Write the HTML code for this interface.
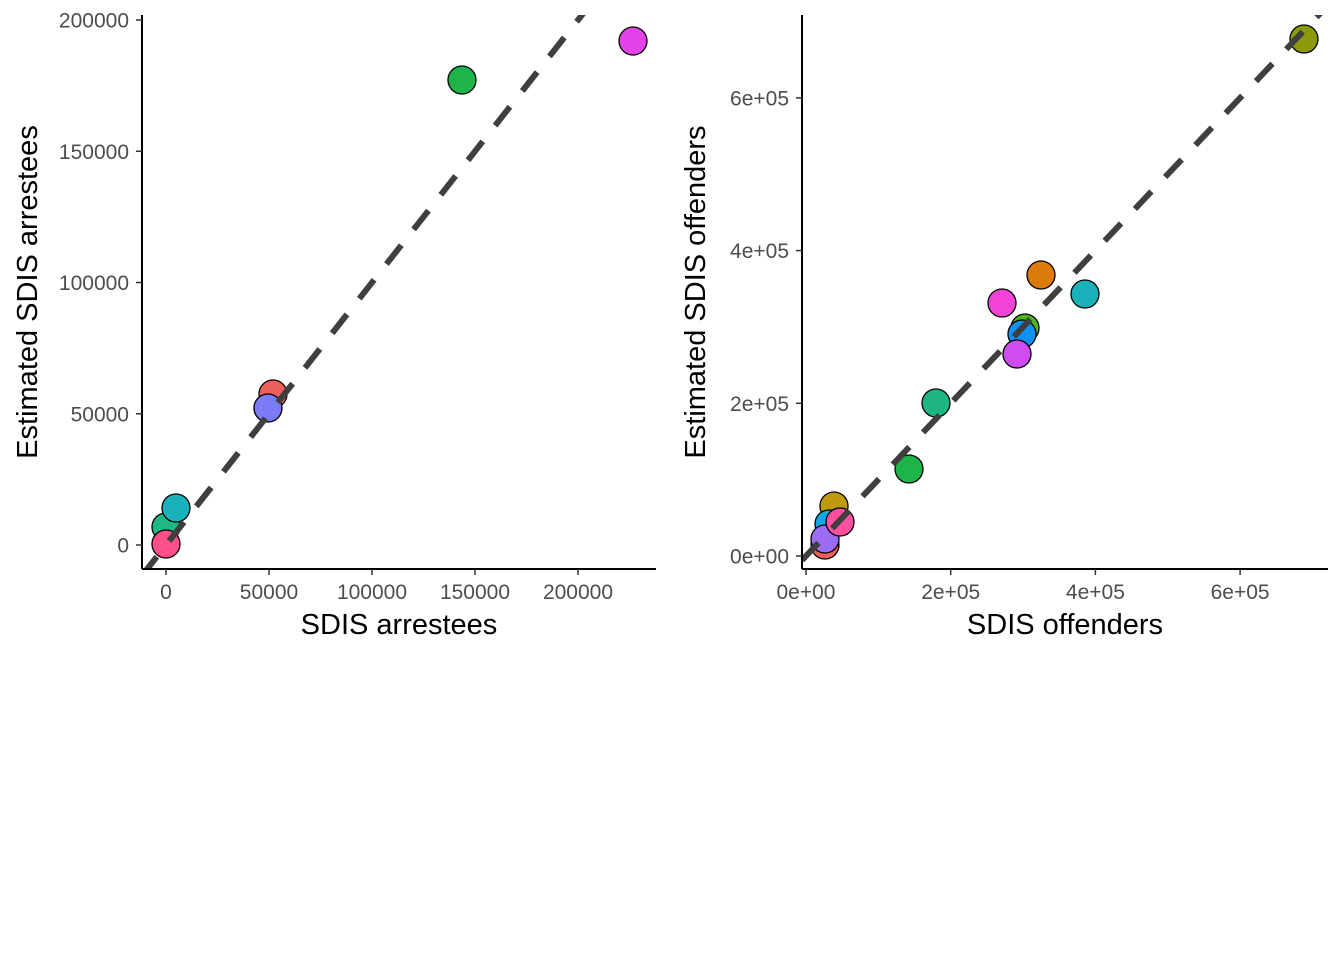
<!DOCTYPE html>
<html><head><meta charset="utf-8"><style>
html,body{margin:0;padding:0;background:#fff;width:1344px;height:960px;overflow:hidden}
svg text{font-family:"Liberation Sans",Arial,sans-serif}
</style></head><body>
<svg id="c" width="1344" height="960" viewBox="0 0 1344 960"></svg>
<script>
const leftX=[51942,49515,143689,226700,0,4854,0];
const leftY=[57524,52190,177142,192000,6857,14095,381];
const leftColors=["#F0605A","#7B7BF5","#1DB54A","#E243E8","#1FB884","#1AB2BA","#FF4F8C"];
const leftXTicks=[0,50000,100000,150000,200000];
const leftYTicks=[0,50000,100000,150000,200000];
const rightX=[688322,324810,385625,270905,302695,298548,291638,179682,142363,26261,38700,31790,26261,46994];
const rightY=[677145,368042,343156,331368,298625,290766,264571,200393,113949,14407,65488,41912,22266,44531];
const rightColors=["#8B9A0B","#DC7A0A","#1AB2BA","#F243D6","#4DB81E","#1090F0","#D04CF0","#1DB584","#1DB54A","#F0605A","#BE9A0C","#10A9E6","#9C6CF5","#FF4F9E"];
const rightXTicks=[0,200000,400000,600000];
const rightYTicks=[0,200000,400000,600000];
const NS="http://www.w3.org/2000/svg";
const svg=document.getElementById('c');
function mk(t,a,p){const e=document.createElementNS(NS,t);for(const k in a)e.setAttribute(k,a[k]);(p||svg).appendChild(e);return e;}
function panel(o){
  const g=mk('g',{});
  
  
  const sx=v=>o.x0+v*o.kx, sy=v=>o.y0-v*o.ky;
  for(let i=0;i<o.xs.length;i++){
    const c=mk('circle',{cx:sx(o.xs[i]),cy:sy(o.ys[i]),r:14,fill:o.cols[i],stroke:'#000','stroke-width':1.3},g);
    
    
  }
  const lo=(o.left-o.x0)/o.kx, hi=(o.right-o.x0)/o.kx;
  const l=mk('line',{x1:sx(lo),y1:sy(lo),x2:sx(hi),y2:sy(hi),stroke:'#3f3f3f','stroke-width':6,'stroke-dasharray':'24,20'},g);
  
  
  const cp=mk('clipPath',{id:'cp'+o.name},g);
  mk('rect',{x:o.left,y:o.top,width:o.right-o.left,height:o.bottom-o.top},cp);
  l.setAttribute('clip-path','url(#cp'+o.name+')');
  const xa=mk('line',{x1:o.left,y1:o.bottom,x2:o.right,y2:o.bottom,stroke:'#000','stroke-width':2},g);
  
  
  const ya=mk('line',{x1:o.left,y1:o.top,x2:o.left,y2:o.bottom,stroke:'#000','stroke-width':2},g);
  
  
  o.xt.forEach(v=>{
    mk('line',{x1:sx(v),x2:sx(v),y1:o.bottom,y2:o.bottom+6,stroke:'#333','stroke-width':1.5},g);
    const t=mk('text',{x:sx(v),y:o.bottom+30,'text-anchor':'middle','font-size':21,fill:'#4d4d4d'},g);
    t.textContent=o.fmt(v);
    
    
  });
  o.yt.forEach(v=>{
    mk('line',{x1:o.left-6,x2:o.left,y1:sy(v),y2:sy(v),stroke:'#333','stroke-width':1.5},g);
    const t=mk('text',{x:o.left-13,y:sy(v)+7.5,'text-anchor':'end','font-size':21,fill:'#4d4d4d'},g);
    t.textContent=o.fmt(v);
    
    
  });
  const xt=mk('text',{x:(o.left+o.right)/2,y:634,'text-anchor':'middle','font-size':29,fill:'#000'},g);
  xt.textContent=o.xlab;
  
  
  const yx=o.left-o.ytOff, yy=(o.top+o.bottom)/2;
  const yt=mk('text',{x:yx,y:yy,'text-anchor':'middle','font-size':29,fill:'#000',transform:`rotate(-90 ${yx} ${yy})`},g);
  yt.textContent=o.ylab;
  
  
}
const sci=v=>v===0?'0e+00':(v/1e5)+'e+05';
panel({name:'left-panel',xs:leftX,ys:leftY,cols:leftColors,xt:leftXTicks,yt:leftYTicks,
  x0:166,kx:103/50000,y0:545,ky:131.25/50000,left:142,right:656,top:15,bottom:569,
  fmt:v=>String(v),xlab:'SDIS arrestees',ylab:'Estimated SDIS arrestees',ytOff:105});
panel({name:'right-panel',xs:rightX,ys:rightY,cols:rightColors,xt:rightXTicks,yt:rightYTicks,
  x0:806,kx:144.7/200000,y0:556,ky:152.7/200000,left:802,right:1328,top:15,bottom:569,
  fmt:sci,xlab:'SDIS offenders',ylab:'Estimated SDIS offenders',ytOff:97});
</script>
</body></html>
